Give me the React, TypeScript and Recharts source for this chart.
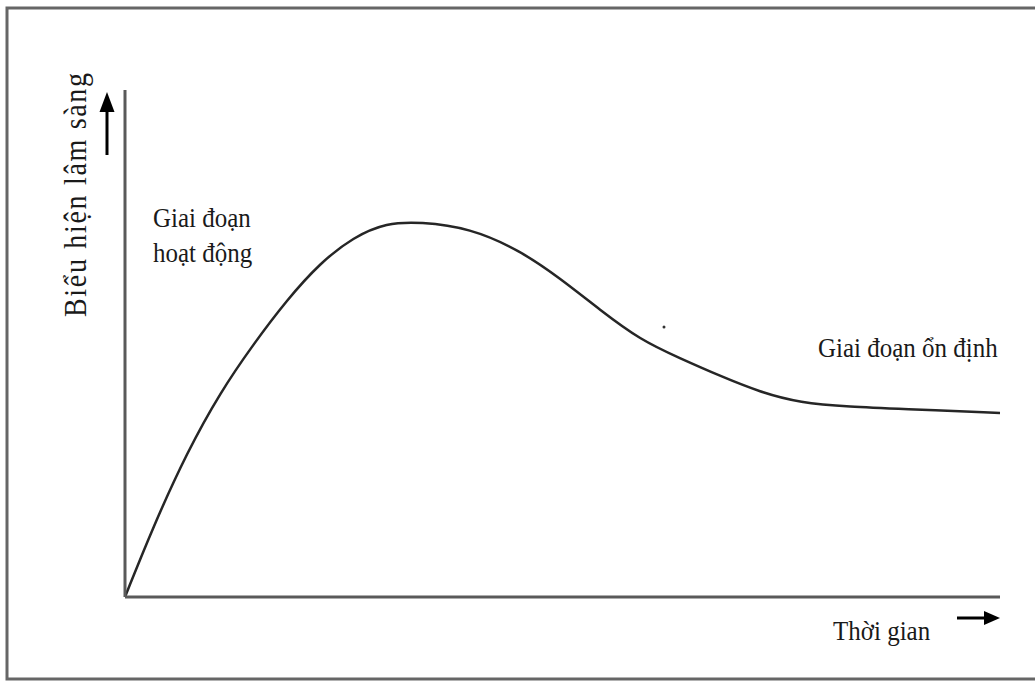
import { Customized, Line, LineChart, XAxis, YAxis } from 'recharts'

// time (0-100) and clinical intensity (0-100)
const timeValues = [0, 3.2, 7.1, 10.9, 14.6, 18.5, 22.3, 26.1, 29.9, 33.7, 39.4, 45.1, 49.7, 54.3, 58.9, 63.4, 68, 72.6, 77.1, 82.9, 88.6, 100]
const clinicalValues = [0, 13.8, 28.6, 40.4, 49.7, 58.6, 65.9, 71, 73.8, 74, 72.8, 68.4, 62.9, 56.6, 50.7, 47.1, 43.6, 40.4, 38.3, 37.5, 37.1, 36.3]

const yAxisLabel = 'Biểu hiện lâm sàng'
const xAxisLabel = 'Thời gian'
const activeLabel = ['Giai đoạn', 'hoạt động']
const stableLabel = 'Giai đoạn ổn định'

const chartData = timeValues.map((t, i) => ({ t, v: clinicalValues[i] }))

const palette = {
  frame: '#666666',
  axis: '#5a5a5a',
  curve: '#262626',
  ink: '#1a1a1a',
}

const serif = '"Liberation Serif", "DejaVu Serif", serif'

// slightly tall serif lettering like the scanned figure
function Label({ x, y, children }: { x: number; y: number; children: string }) {
  return (
    <text
      x={0}
      y={0}
      transform={`translate(${x} ${y}) scale(1 1.12)`}
      fontFamily={serif}
      fontSize={25}
      fill={palette.ink}
    >
      {children}
    </text>
  )
}

function Decorations() {
  return (
    <g>
      <path d="M 1040 8 H 7 V 679 H 1040" fill="none" stroke={palette.frame} strokeWidth={3} />

      {/* y arrow */}
      <line x1={107} y1={155} x2={107} y2={108} stroke="#000" strokeWidth={3} />
      <polygon points="107,92 99.5,112 114.5,112" fill="#000" />

      {/* x arrow */}
      <line x1={957} y1={618} x2={988} y2={618} stroke="#000" strokeWidth={3} />
      <polygon points="1000,618 984,611 984,625" fill="#000" />

      <text
        x={0}
        y={0}
        transform="translate(86 195) rotate(-90) scale(1 1.1)"
        textAnchor="middle"
        fontFamily={serif}
        fontSize={28}
        fill={palette.ink}
        textLength={244}
        lengthAdjust="spacing"
      >
        {yAxisLabel}
      </text>

      <Label x={153} y={227}>{activeLabel[0]}</Label>
      <Label x={153} y={262}>{activeLabel[1]}</Label>
      <Label x={818} y={357}>{stableLabel}</Label>
      <Label x={833} y={640}>{xAxisLabel}</Label>

      <circle cx={664} cy={327} r={1.5} fill="#333" />
    </g>
  )
}

export default function App() {
  return (
    <div style={{ position: 'absolute', left: 0, top: 0, width: 1035, height: 681, background: '#fff' }}>
      <LineChart
        width={1035}
        height={681}
        data={chartData}
        margin={{ top: 90, right: 35, bottom: 83, left: 124 }}
      >
        <XAxis
          type="number"
          dataKey="t"
          domain={[0, 100]}
          height={1}
          tick={false}
          tickLine={false}
          axisLine={{ stroke: palette.axis, strokeWidth: 3 }}
        />
        <YAxis
          type="number"
          domain={[0, 100]}
          width={1}
          tick={false}
          tickLine={false}
          axisLine={{ stroke: palette.axis, strokeWidth: 3 }}
        />
        <Line
          type="basis"
          dataKey="v"
          stroke={palette.curve}
          strokeWidth={2.5}
          dot={false}
          activeDot={false}
          isAnimationActive={false}
        />
        <Customized component={Decorations} />
      </LineChart>
    </div>
  )
}
